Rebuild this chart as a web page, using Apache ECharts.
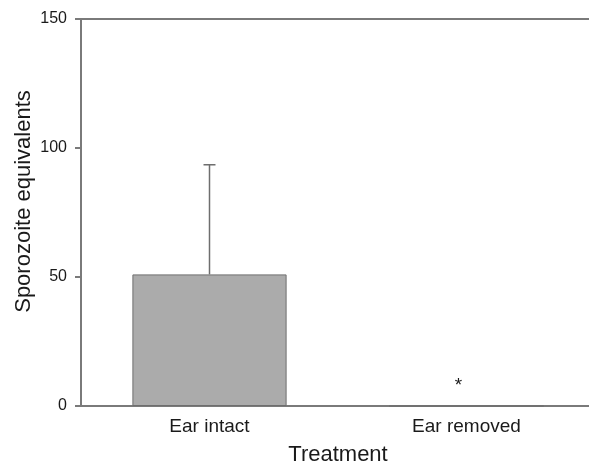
<!DOCTYPE html>
<html>
<head>
<meta charset="utf-8">
<script src="https://cdn.jsdelivr.net/npm/echarts@6/dist/echarts.min.js"></script>
<style>html,body{margin:0;padding:0;background:#fff}#c{width:589px;height:467px}</style>
</head>
<body>
<div id="c"></div>
<script>
const categories = ['Ear intact', 'Ear removed'];
const means = [51, 0];
const errorTops = [93.5, null];
const markers = ['', '*'];
const yTicks = [0, 50, 100, 150];

const chart = echarts.init(document.getElementById('c'));
const font = 'Liberation Sans, Arial, sans-serif';
const axisColor = '#7a7a7a';
chart.setOption({
  animation: false,
  backgroundColor: '#fff',
  grid: { left: 81, top: 19, right: -6, bottom: 61, containLabel: false, outerBoundsMode: 'none' },
  xAxis: [{
    type: 'category', data: categories,
    name: 'Treatment', nameLocation: 'middle', nameGap: 38,
    nameTextStyle: { fontFamily: font, fontSize: 22, color: '#1a1a1a' },
    axisLine: { lineStyle: { color: axisColor, width: 2 } },
    axisTick: { show: false },
    axisLabel: { fontFamily: font, fontSize: 19, color: '#1a1a1a', margin: 11 }
  }, {
    type: 'category', data: categories, position: 'top',
    axisLine: { show: true, lineStyle: { color: axisColor, width: 2 } },
    axisTick: { show: false }, axisLabel: { show: false }
  }],
  yAxis: {
    type: 'value', min: yTicks[0], max: yTicks[yTicks.length - 1], interval: 50,
    name: 'Sporozoite equivalents', nameLocation: 'middle', nameGap: 46,
    nameMoveOverlap: false,
    nameTextStyle: { fontFamily: font, fontSize: 22, color: '#1a1a1a', padding: [0, 0, 0, 22] },
    axisLine: { show: true, lineStyle: { color: axisColor, width: 2 } },
    axisTick: { show: true, length: 6, inside: false, lineStyle: { color: axisColor, width: 2 } },
    axisLabel: { fontFamily: font, fontSize: 16, color: '#1a1a1a', margin: 14 },
    splitLine: { show: false }
  },
  series: [{
    type: 'bar',
    data: means.map((v, i) => ({
      value: v,
      label: {
        show: markers[i] !== '', formatter: markers[i], position: 'top',
        distance: 10, offset: [-8, 0],
        fontFamily: font, fontSize: 19, color: '#1a1a1a'
      }
    })),
    barWidth: '60%',
    itemStyle: { color: '#ababab', borderColor: '#6e6e6e', borderWidth: 1 },
    z: 2
  }, {
    type: 'custom',
    data: categories.map((c, i) => [i, means[i], errorTops[i]]),
    renderItem: function (params, api) {
      const top = api.value(2);
      if (top === null || top === undefined || isNaN(top)) return null;
      const i = api.value(0);
      const p0 = api.coord([i, api.value(1)]);
      const p1 = api.coord([i, top]);
      const half = 6;
      const style = { stroke: '#6e6e6e', lineWidth: 1.5 };
      return {
        type: 'group',
        children: [
          { type: 'line', shape: { x1: p0[0], y1: p0[1], x2: p1[0], y2: p1[1] }, style: style },
          { type: 'line', shape: { x1: p1[0] - half, y1: p1[1], x2: p1[0] + half, y2: p1[1] }, style: style }
        ]
      };
    },
    z: 1
  }]
});
</script>
</body>
</html>
